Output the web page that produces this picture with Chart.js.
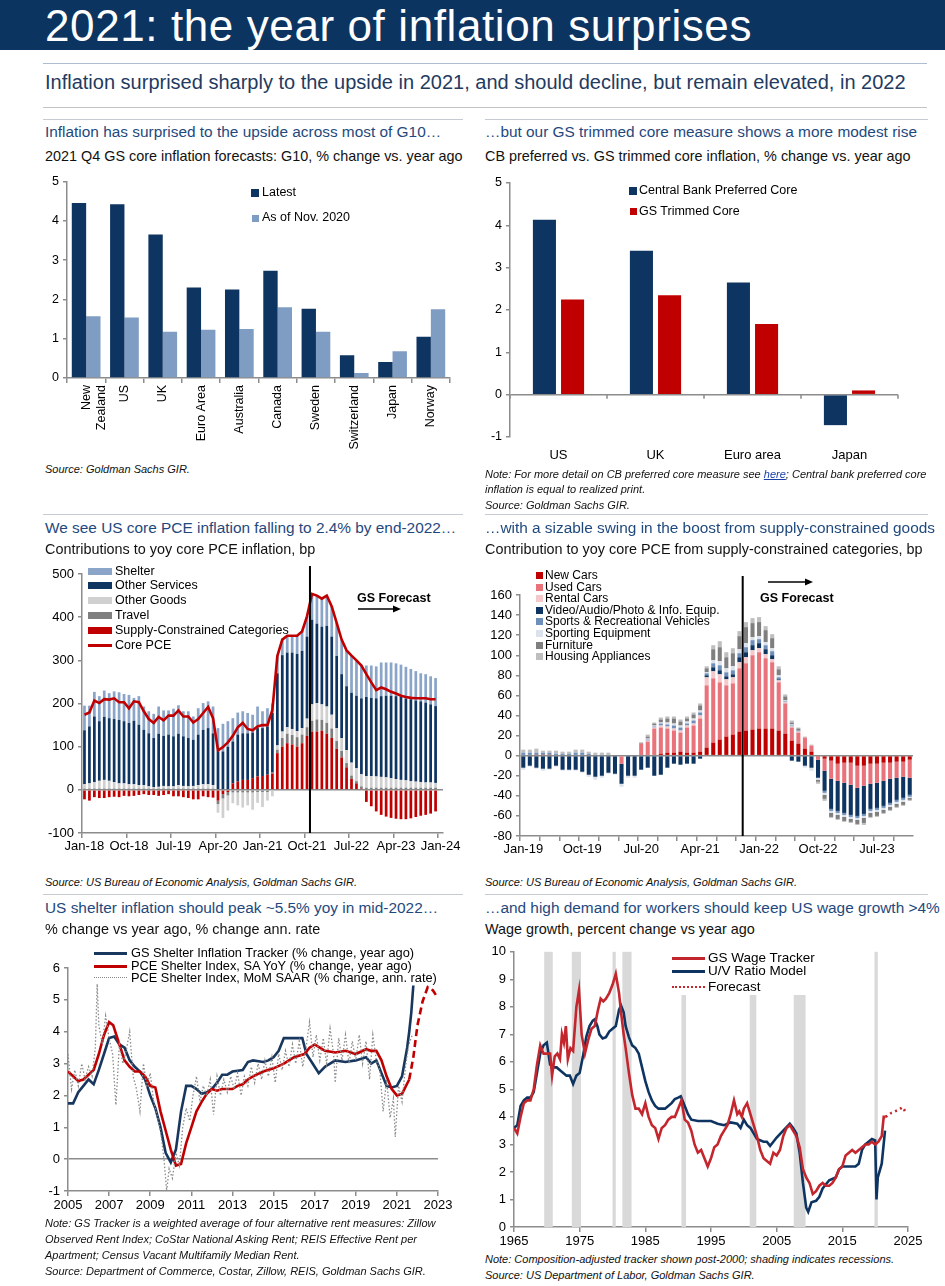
<!DOCTYPE html>
<html>
<head>
<meta charset="utf-8">
<script src="https://cdn.jsdelivr.net/npm/chart.js@4"></script>
<style>
body{margin:0;width:945px;height:1286px;position:relative;background:#fff;font-family:'Liberation Sans',Arial,sans-serif;overflow:hidden;color:#111}
.t{position:absolute;white-space:nowrap;line-height:1}
.h{font-size:15.4px;color:#1F497D}
.s{font-size:14.4px;color:#111}
.n{font-size:11px;font-style:italic;color:#111}
.hr{position:absolute;height:1px;background:#c6cbd3}
canvas{position:absolute}
.sw{position:absolute}
.lg{position:absolute;white-space:nowrap;line-height:1;color:#000}
</style>
</head>
<body>
<script>
// ---- panel 1: G10 core inflation forecasts
const g10Countries = [['New', 'Zealand'], 'US', 'UK', 'Euro Area', 'Australia', 'Canada', 'Sweden', 'Switzerland', 'Japan', 'Norway'];
const g10Latest = [4.45, 4.42, 3.65, 2.3, 2.25, 2.73, 1.76, 0.58, 0.41, 1.05];
const g10Nov2020 = [1.57, 1.54, 1.18, 1.23, 1.25, 1.8, 1.18, 0.13, 0.68, 1.75];

// ---- panel 2: CB preferred vs GS trimmed core
const cbRegions = ['US', 'UK', 'Euro area', 'Japan'];
const cbPreferred = [4.13, 3.4, 2.65, -0.72];
const gsTrimmed = [2.25, 2.35, 1.67, 0.1];

// ---- panel 3: contributions to yoy core PCE, bp (Jan-18 .. Dec-23)
const pceMonths = ['Jan-18','Feb-18','Mar-18','Apr-18','May-18','Jun-18','Jul-18','Aug-18','Sep-18','Oct-18','Nov-18','Dec-18',
  'Jan-19','Feb-19','Mar-19','Apr-19','May-19','Jun-19','Jul-19','Aug-19','Sep-19','Oct-19','Nov-19','Dec-19',
  'Jan-20','Feb-20','Mar-20','Apr-20','May-20','Jun-20','Jul-20','Aug-20','Sep-20','Oct-20','Nov-20','Dec-20',
  'Jan-21','Feb-21','Mar-21','Apr-21','May-21','Jun-21','Jul-21','Aug-21','Sep-21','Oct-21','Nov-21','Dec-21',
  'Jan-22','Feb-22','Mar-22','Apr-22','May-22','Jun-22','Jul-22','Aug-22','Sep-22','Oct-22','Nov-22','Dec-22',
  'Jan-23','Feb-23','Mar-23','Apr-23','May-23','Jun-23','Jul-23','Aug-23','Sep-23','Oct-23','Nov-23','Dec-23','Jan-24'];
const pceSupply = [-22,-25,-17,-19,-19,-17,-16,-17,-14,-15,-14,-12,-10,-12,-12,-14,-12,-10,-15,-15,-17,-19,-22,-22,-15,-17,-18,
  -25,-10,-5,15,19,23,23,27,31,32,35,
  38,85,100,108,105,100,108,125,135,135,137,130,120,95,75,52,25,15,3,
  -28,-38,-50,-58,-62,-65,-67,-68,-68,-66,-63,-60,-58,-55,-50];
const pceTravel = [3,3,3,3,3,3,3,3,3,3,3,3,3,3,3,3,3,3,3,3,3,3,3,3,3,3,3,
  -8,-10,-8,-6,-6,-6,-6,-6,-5,-5,-5,
  2,8,20,22,22,22,20,20,25,28,25,25,22,18,15,10,8,5,5,
  5,5,5,5,5,5,5,5,5,5,5,5,5,5,5];
const pceOtherGoods = [10,12,15,18,20,18,15,12,12,10,10,8,8,5,3,4,6,5,5,8,6,5,6,8,10,10,8,
  -20,-45,-35,-25,-30,-35,-30,-40,-25,-35,-20,
  -15,10,15,15,14,14,15,20,38,38,36,38,32,30,30,30,30,30,28,
  27,27,26,25,24,22,20,18,17,15,14,13,12,12,11];
const pceOtherServices = [125,132,152,138,146,145,146,147,144,142,147,140,128,123,114,123,116,120,116,119,115,112,107,117,126,130,120,
  89,89,100,97,109,108,108,106,112,111,112,
  138,167,177,173,177,179,179,190,196,184,180,187,181,167,148,148,162,168,176,
  183,181,181,187,189,191,192,192,190,190,188,187,185,181,178];
const pceShelter = [57,48,57,58,61,58,64,64,63,65,53,66,54,51,56,63,59,56,64,66,58,62,54,61,62,62,62,
  54,64,59,54,51,51,47,41,50,39,42,
  22,40,38,39,39,42,46,47,60,65,65,70,70,77,80,83,86,82,78,
  73,75,74,78,77,77,76,75,73,70,68,65,66,65,65];
const corePce = [174,179,207,201,210,209,212,203,203,189,205,203,182,164,155,169,161,172,172,184,170,170,156,164,178,192,166,
  91,99,110,125,145,155,141,138,147,150,150,
  185,310,348,357,357,357,367,402,454,450,443,450,425,387,348,323,311,300,288,
  268,249,231,237,233,227,223,218,215,213,212,212,212,210,210];
const pceForecastAt = 45.6;

// ---- panel 4: supply-constrained categories, bp (Jan-19 .. Dec-23)
const scMonths = pceMonths.slice(12, 72);
const scNewCars = [0,0,1,1,1,0,0,0,0,0,0,0,0,0,0,0,0,0,
  1,1,1,2,3,3,4,3,3,4,8,13,16,19,21,24,
  25,26,27,27,27,25,22,15,12,7,4,
  -1,-3,-5,-8,-7,-7,-10,-10,-8,-8,-7,-7,-6,-6,-4];
const scUsedCars = [0,0,0,0,0,0,0,0,0,0,0,0,0,0,0,-8,0,0,
  11,13,26,26,24,22,19,25,27,33,62,64,57,51,51,63,
  67,74,76,70,66,48,30,13,11,11,6,
  -3,-12,-18,-17,-20,-22,-22,-20,-20,-19,-18,-16,-16,-15,-18];
const scRentalCars = [0,0,0,0,0,0,0,0,0,0,0,0,0,0,0,0,0,0,
  0,1,1,2,2,2,2,2,2,3,8,7,8,6,6,6,
  6,5,4,4,3,2,1,1,1,0,0,
  0,0,0,0,0,0,0,0,0,0,0,0,0,0,0];
const scVideo = [-12,-10,-12,-13,-13,-10,-14,-14,-14,-16,-19,-21,-20,-17,-18,-20,-20,-20,
  -14,-12,-20,-19,-12,-8,-9,-8,-8,-3,2,4,4,3,3,5,
  5,5,5,5,4,1,0,-5,-6,-10,-12,
  -18,-20,-30,-30,-30,-30,-28,-28,-25,-25,-25,-24,-22,-21,-17];
const scSportsVehicles = [3,3,2,2,2,2,2,2,3,3,2,1,1,1,0,0,0,0,
  0,1,1,2,2,3,3,2,3,3,2,4,5,4,4,4,
  5,5,4,4,4,2,1,1,1,0,0,
  0,-2,-2,-2,-2,-2,-2,-2,-2,-2,-2,-2,-2,-2,-2];
const scSportingEquip = [-2,-1,-1,-2,-1,-1,-1,-1,-1,-1,-2,-3,-2,-1,-1,-3,-2,-2,
  0,1,1,1,2,2,2,2,2,2,1,3,4,4,4,4,
  4,3,3,3,3,2,1,1,0,-2,-3,
  -2,-2,-2,-2,-2,-2,-2,-2,-2,-2,-2,-2,-2,-2,-1];
const scFurniture = [0,0,0,0,0,0,0,0,0,0,0,0,0,0,0,0,0,0,
  1,2,2,3,4,5,4,3,4,5,4,11,14,11,13,13,
  16,14,14,12,10,6,4,2,2,0,0,
  -2,-4,-4,-4,-4,-3,-4,-5,-4,-4,-3,-3,-3,-3,-2];
const scHousingAppl = [3,3,4,2,2,3,2,2,3,3,2,2,2,2,0,0,0,0,
  0,2,1,2,2,2,2,2,2,2,2,4,6,5,5,5,
  5,5,5,4,4,3,2,2,1,1,1,
  -2,-2,-1,-1,-1,-1,-1,-2,-1,-1,-1,-1,-1,-1,-1];
const scForecastAt = 33.5;

// ---- panel 5: shelter inflation, [year, %]
const gsShelterTracker = [[2005.0,1.75],[2005.25,1.75],[2005.5,2.1],[2005.75,2.3],[2006.0,2.5],[2006.25,2.35],[2006.5,2.8],[2006.75,3.3],
  [2007.0,3.8],[2007.25,3.85],[2007.5,3.6],[2007.75,3.5],[2008.0,3.1],[2008.25,2.9],[2008.5,2.75],[2008.75,2.5],[2009.0,2.0],
  [2009.25,1.6],[2009.5,1.0],[2009.75,0.2],[2010.0,-0.1],[2010.25,0.3],[2010.5,1.5],[2010.75,2.3],[2011.0,2.3],[2011.25,2.2],
  [2011.5,2.05],[2011.75,2.1],[2012.0,2.2],[2012.25,2.4],[2012.5,2.65],[2012.75,2.65],[2013.0,2.75],[2013.5,2.8],[2013.75,3.05],
  [2014.0,3.1],[2014.5,3.05],[2014.75,3.1],[2015.0,3.2],[2015.25,3.4],[2015.5,3.8],[2016.0,3.8],[2016.4,3.8],[2016.6,3.3],
  [2016.9,3.0],[2017.2,2.7],[2017.5,2.9],[2017.75,3.0],[2018.0,3.1],[2018.5,3.05],[2019.0,3.1],[2019.5,3.2],[2019.75,3.0],
  [2020.0,3.1],[2020.25,2.7],[2020.5,2.3],[2020.75,2.25],[2021.0,2.3],[2021.25,2.6],[2021.5,3.5],[2021.6,4.0],[2021.7,4.6],[2021.8,5.45]];
const pceShelterYoy = [[2005.0,2.75],[2005.25,2.6],[2005.5,2.45],[2005.75,2.5],[2006.0,2.65],[2006.25,2.8],[2006.5,3.3],[2006.75,3.9],
  [2007.0,4.3],[2007.2,4.2],[2007.5,3.6],[2007.75,3.1],[2008.0,2.9],[2008.25,2.75],[2008.5,2.75],[2008.75,2.6],[2009.0,2.3],
  [2009.25,2.25],[2009.5,1.5],[2009.75,0.9],[2010.0,0.3],[2010.25,-0.2],[2010.5,-0.15],[2010.75,0.5],[2011.0,1.0],[2011.25,1.5],
  [2011.5,1.8],[2011.75,2.05],[2012.0,2.2],[2012.25,2.15],[2012.5,2.2],[2012.75,2.2],[2013.0,2.2],[2013.25,2.3],[2013.5,2.35],
  [2013.75,2.5],[2014.0,2.6],[2014.5,2.75],[2015.0,2.85],[2015.5,3.0],[2015.75,3.1],[2016.0,3.2],[2016.5,3.3],[2016.75,3.5],
  [2017.0,3.6],[2017.25,3.5],[2017.5,3.4],[2018.0,3.35],[2018.5,3.4],[2019.0,3.3],[2019.5,3.45],[2019.75,3.4],[2020.0,3.4],
  [2020.25,3.1],[2020.5,2.6],[2020.75,2.2],[2021.0,2.0],[2021.25,2.05],[2021.6,2.5]];
const pceShelterForecast = [[2021.6,2.5],[2021.8,3.2],[2022.0,4.2],[2022.25,4.95],[2022.5,5.4],[2022.75,5.3],[2022.95,5.1]];
const pceShelterMom = [[2005.0,3.3],[2005.17,2.2],[2005.33,2.8],[2005.5,2.3],[2005.67,3.0],[2005.83,2.5],[2006.0,2.9],[2006.17,2.6],
  [2006.33,3.5],[2006.42,5.5],[2006.5,4.2],[2006.67,3.6],[2006.83,4.5],[2007.0,3.8],[2007.17,3.3],[2007.33,1.7],[2007.5,3.6],
  [2007.67,3.0],[2007.83,3.4],[2008.0,4.0],[2008.17,2.6],[2008.33,2.2],[2008.5,1.5],[2008.67,3.0],[2008.83,2.3],[2009.0,2.7],
  [2009.17,1.8],[2009.33,1.4],[2009.5,0.9],[2009.67,0.0],[2009.8,-1.0],[2009.92,-0.3],[2010.08,-0.6],[2010.25,0.2],[2010.42,-0.2],
  [2010.58,1.0],[2010.75,1.6],[2010.92,1.2],[2011.08,2.0],[2011.25,2.6],[2011.42,1.8],[2011.58,2.3],[2011.75,2.0],[2011.92,2.5],
  [2012.08,1.4],[2012.25,2.6],[2012.42,2.0],[2012.58,2.5],[2012.75,2.1],[2012.92,2.6],[2013.08,2.2],[2013.25,2.7],[2013.42,2.0],
  [2013.58,2.6],[2013.75,2.3],[2013.92,2.9],[2014.08,2.4],[2014.25,3.0],[2014.42,2.5],[2014.58,3.1],[2014.75,2.6],[2014.92,3.2],
  [2015.08,2.4],[2015.25,3.3],[2015.42,2.8],[2015.58,3.4],[2015.75,2.9],[2015.92,3.6],[2016.08,3.0],[2016.25,3.7],[2016.42,2.9],
  [2016.58,3.5],[2016.75,4.3],[2016.92,3.2],[2017.08,3.9],[2017.25,3.1],[2017.42,3.8],[2017.58,3.0],[2017.75,4.1],[2017.92,3.3],
  [2018.0,2.4],[2018.17,3.8],[2018.33,3.1],[2018.5,3.9],[2018.67,3.0],[2018.83,3.7],[2019.0,3.1],[2019.17,3.9],[2019.33,3.0],
  [2019.5,3.7],[2019.67,2.5],[2019.83,3.9],[2020.0,3.1],[2020.17,2.8],[2020.33,1.5],[2020.5,2.5],[2020.67,1.3],[2020.83,1.9],
  [2020.92,0.7],[2021.08,2.3],[2021.25,1.8],[2021.42,2.9],[2021.58,3.6],[2021.75,3.9]];

// ---- panel 6: wage growth, [year, %]
const gsWageTracker = [[1965.0,3.6],[1965.5,3.4],[1966.0,4.0],[1966.5,4.5],[1967.0,4.6],[1967.5,4.6],[1968.0,5.0],[1968.5,5.9],
  [1969.0,6.6],[1969.5,6.3],[1970.0,6.3],[1970.5,6.3],[1970.8,5.5],[1971.2,6.2],[1971.6,6.3],[1972.0,6.1],[1972.3,7.0],[1972.6,6.7],
  [1972.9,7.3],[1973.2,6.1],[1973.6,6.5],[1974.0,6.4],[1974.5,8.0],[1974.9,8.6],[1975.3,7.0],[1975.8,6.3],[1976.3,6.8],[1976.8,7.2],
  [1977.3,7.3],[1977.8,7.9],[1978.2,8.3],[1978.6,8.2],[1979.0,8.3],[1979.5,8.5],[1980.0,8.8],[1980.5,9.2],[1981.0,8.5],[1981.3,7.8],
  [1981.7,7.0],[1982.0,6.5],[1982.5,5.6],[1983.0,4.8],[1983.5,4.3],[1984.0,4.3],[1984.5,4.1],[1985.0,4.5],[1985.5,4.0],[1986.0,3.7],
  [1986.5,3.6],[1987.0,3.2],[1987.5,3.6],[1988.0,3.7],[1988.5,3.9],[1989.0,4.0],[1989.5,4.0],[1990.0,4.3],[1990.5,4.6],[1991.0,3.9],
  [1991.5,3.8],[1992.0,3.5],[1992.5,3.0],[1993.0,2.7],[1993.5,2.8],[1994.0,2.5],[1994.5,2.2],[1995.0,2.5],[1995.5,2.9],[1996.0,3.0],
  [1996.5,3.3],[1997.0,3.5],[1997.5,3.7],[1998.0,4.1],[1998.5,4.6],[1999.0,4.1],[1999.3,4.2],[1999.7,4.0],[2000.0,4.3],[2000.5,4.5],
  [2001.0,4.1],[2001.5,3.7],[2002.0,3.3],[2002.5,2.8],[2003.0,2.5],[2003.5,2.4],[2004.0,2.3],[2004.5,2.7],[2005.0,2.6],[2005.5,2.8],
  [2006.0,3.3],[2006.5,3.6],[2007.0,3.7],[2007.5,3.5],[2008.0,3.3],[2008.5,2.9],[2009.0,2.1],[2009.5,1.8],[2010.0,1.6],[2010.5,1.2],
  [2011.0,1.3],[2011.5,1.5],[2012.0,1.6],[2012.5,1.5],[2013.0,1.5],[2013.5,1.6],[2014.0,1.8],[2014.5,2.1],[2015.0,2.2],[2015.5,2.6],
  [2016.0,2.7],[2016.5,2.8],[2017.0,2.7],[2017.5,2.8],[2018.0,2.9],[2018.5,3.0],[2019.0,3.0],[2019.5,3.1],[2020.0,3.0],[2020.5,3.1],
  [2021.0,3.3],[2021.3,4.0],[2021.6,4.0]];
const wageForecast = [[2021.6,4.0],[2022.5,4.15],[2023.5,4.25],[2024.2,4.35],[2024.7,4.15]];
const uvRatioModel = [[1965.0,3.6],[1965.5,3.7],[1966.0,4.4],[1966.5,4.6],[1967.0,4.7],[1967.5,4.7],[1968.0,4.9],[1968.5,5.6],
  [1969.0,6.3],[1969.5,6.6],[1970.0,6.7],[1970.5,5.9],[1971.0,5.8],[1971.5,5.8],[1972.0,5.7],[1972.5,5.6],[1973.0,5.5],[1973.5,5.5],
  [1974.0,5.2],[1974.5,5.5],[1975.0,5.6],[1975.5,6.2],[1976.0,6.9],[1976.5,7.3],[1977.0,7.5],[1977.3,7.55],[1977.7,7.3],[1978.0,7.0],
  [1978.5,6.85],[1979.0,6.9],[1979.5,7.1],[1980.0,7.2],[1980.5,7.3],[1981.0,7.9],[1981.3,8.05],[1981.7,7.8],[1982.0,7.3],[1982.5,6.9],
  [1983.0,6.6],[1983.5,6.5],[1984.0,6.3],[1984.5,5.8],[1985.0,5.3],[1985.5,4.9],[1986.0,4.6],[1986.5,4.4],[1987.0,4.3],[1988.0,4.3],
  [1989.0,4.5],[1989.5,4.65],[1990.0,4.7],[1990.4,4.75],[1991.0,4.4],[1991.5,4.1],[1992.0,3.9],[1993.0,3.85],[1994.0,3.85],[1995.0,3.85],
  [1996.0,3.75],[1997.0,3.7],[1998.0,3.8],[1999.0,3.75],[1999.5,3.6],[2000.0,3.9],[2000.5,3.7],[2001.0,3.6],[2001.5,3.4],[2002.0,3.2],
  [2003.0,3.1],[2003.5,3.1],[2004.0,2.95],[2004.5,3.1],[2005.0,3.25],[2006.0,3.5],[2007.0,3.75],[2007.5,3.6],[2008.0,3.4],[2008.5,2.7],
  [2009.0,1.6],[2009.5,0.7],[2009.8,0.55],[2010.3,0.9],[2011.0,0.95],[2011.5,1.1],[2012.0,1.4],[2013.0,1.7],[2014.0,1.8],[2014.5,2.1],
  [2015.0,2.2],[2016.0,2.2],[2017.0,2.2],[2017.5,2.3],[2018.0,2.8],[2018.5,3.0],[2019.0,3.1],[2019.5,3.2],[2020.0,3.15],[2020.2,1.0],
  [2020.4,1.8],[2021.0,2.3],[2021.5,3.5]];
const recessionStart = [1969.6, 1973.8, 1980.0, 1981.5, 1990.5, 2000.9, 2007.6, 2019.9];
const recessionEnd = [1970.9, 1975.2, 1980.5, 1982.9, 1991.2, 2001.9, 2009.4, 2020.4];

const NAVY = '#0E3461';
const LIGHT = '#7F9CC2';
const RED = '#C00000';
const AXIS = '#8c8c8c';
Chart.defaults.font.family = "'Liberation Sans', Arial, sans-serif";
Chart.defaults.color = '#000';

function mk(x, y, w, h) {
  const c = document.createElement('canvas');
  c.width = w; c.height = h;
  c.style.left = x + 'px'; c.style.top = y + 'px';
  document.body.appendChild(c);
  return c;
}
function xy(pairs) { return pairs.map(p => ({x: p[0], y: p[1]})); }

function yScale(min, max, step, width, size, zeroLine) {
  return {
    min: min, max: max,
    ticks: {stepSize: step, font: {size: size}, padding: 4},
    grid: {
      drawOnChartArea: !!zeroLine,
      color: c => (zeroLine && c.tick && c.tick.value === 0) ? AXIS : 'rgba(0,0,0,0)',
      tickColor: AXIS, tickLength: 4, lineWidth: 1.5
    },
    border: {color: AXIS, width: 1.5},
    afterFit: s => { s.width = width; }
  };
}
const base = {animation: false, responsive: false, plugins: {legend: {display: false}, tooltip: {enabled: false}}};

function forecastLine(at, above) {
  return {
    id: 'fline',
    afterDatasetsDraw(chart) {
      const x = chart.scales.x.getPixelForValue(at), ctx = chart.ctx;
      ctx.save(); ctx.strokeStyle = '#000'; ctx.lineWidth = 2;
      ctx.beginPath(); ctx.moveTo(x, chart.chartArea.top - above); ctx.lineTo(x, chart.chartArea.bottom); ctx.stroke();
      ctx.restore();
    }
  };
}

// panel 1
new Chart(mk(20, 170, 445, 285), {
  type: 'bar',
  data: {labels: g10Countries, datasets: [
    {data: g10Latest, backgroundColor: NAVY},
    {data: g10Nov2020, backgroundColor: LIGHT}]},
  options: Object.assign({}, base, {
    layout: {padding: {top: 9, right: 15}},
    datasets: {bar: {categoryPercentage: 0.75, barPercentage: 1}},
    scales: {
      x: {grid: {drawOnChartArea: false, offset: true, tickLength: 5, color: AXIS, lineWidth: 1.5},
          border: {color: AXIS, width: 1.5},
          ticks: {minRotation: 90, maxRotation: 90, autoSkip: false, font: {size: 12.5}, padding: 2},
          afterFit: s => { s.height = 77; }},
      y: yScale(0, 5, 1, 47, 12.5, false)
    }
  })
});

// panel 2
new Chart(mk(470, 170, 470, 300), {
  type: 'bar',
  data: {labels: cbRegions, datasets: [
    {data: cbPreferred, backgroundColor: NAVY},
    {data: gsTrimmed, backgroundColor: RED}]},
  options: Object.assign({}, base, {
    layout: {padding: {top: 13, right: 42}},
    datasets: {bar: {categoryPercentage: 0.58, barPercentage: 0.82}},
    scales: {
      x: {grid: {display: false}, border: {display: false},
          ticks: {font: {size: 13}, padding: 3},
          afterFit: s => { s.height = 33; }},
      y: yScale(-1, 5, 1, 40, 12.5, true)
    }
  }),
  plugins: [{
    id: 'zeroTicks',
    afterDatasetsDraw(chart) {
      const xs = chart.scales.x, y0 = chart.scales.y.getPixelForValue(0), ctx = chart.ctx;
      ctx.save(); ctx.strokeStyle = AXIS; ctx.lineWidth = 1.5; ctx.beginPath();
      for (let i = 0; i <= cbRegions.length; i++) {
        const x = xs.getPixelForValue(i - 0.5);
        ctx.moveTo(x, y0); ctx.lineTo(x, y0 + 4);
      }
      ctx.stroke(); ctx.restore();
    }
  }]
});

// panel 3
function monthAxis(labels, every, tickEvery, height, size) {
  return {
    stacked: true,
    grid: {drawOnChartArea: false, offset: true, tickLength: 5, lineWidth: 1.5,
           color: c => (c.index % tickEvery === 0) ? AXIS : 'rgba(0,0,0,0)'},
    border: {color: AXIS, width: 1.5},
    ticks: {autoSkip: false, maxRotation: 0, minRotation: 0, font: {size: size}, padding: 1,
            callback: (v, i) => (i % every === 0 ? labels[i] : '')},
    afterFit: s => { s.height = height; }
  };
}
new Chart(mk(30, 560, 440, 302), {
  type: 'bar',
  data: {labels: pceMonths, datasets: [
    {type: 'line', data: corePce, borderColor: '#C00000', borderWidth: 2.6, pointRadius: 0, order: 0, stack: 'pce'},
    {data: pceSupply, backgroundColor: '#C00000', order: 1},
    {data: pceTravel, backgroundColor: '#7F7F7F', order: 1},
    {data: pceOtherGoods, backgroundColor: '#D0D0D0', order: 1},
    {data: pceOtherServices, backgroundColor: '#0E3461', order: 1},
    {data: pceShelter, backgroundColor: '#8BA5C8', order: 1}]},
  options: Object.assign({}, base, {
    layout: {padding: {top: 14, right: 27}},
    datasets: {bar: {categoryPercentage: 1, barPercentage: 0.55}},
    scales: {
      x: monthAxis(pceMonths, 9, 9, 29, 13),
      y: Object.assign(yScale(-100, 500, 100, 52, 13, true), {stacked: true})
    }
  }),
  plugins: [forecastLine(pceForecastAt, 8)]
});

// panel 4
new Chart(mk(475, 560, 465, 302), {
  type: 'bar',
  data: {labels: scMonths, datasets: [
    {data: scNewCars, backgroundColor: '#C00000'},
    {data: scUsedCars, backgroundColor: '#E8737B'},
    {data: scRentalCars, backgroundColor: '#F5C9CC'},
    {data: scVideo, backgroundColor: '#0E3461'},
    {data: scSportsVehicles, backgroundColor: '#6F8FBB'},
    {data: scSportingEquip, backgroundColor: '#DCE2EC'},
    {data: scFurniture, backgroundColor: '#7F7F7F'},
    {data: scHousingAppl, backgroundColor: '#BFBFBF'}]},
  options: Object.assign({}, base, {
    layout: {padding: {top: 35, right: 27}},
    datasets: {bar: {categoryPercentage: 1, barPercentage: 0.62}},
    scales: {
      x: monthAxis(scMonths, 9, 3, 26, 13),
      y: Object.assign(yScale(-80, 160, 20, 45, 13, true), {stacked: true})
    }
  }),
  plugins: [forecastLine(scForecastAt, 19)]
});

// panel 5
function yearAxis(min, max, step, height) {
  return {
    type: 'linear', min: min, max: max,
    ticks: {stepSize: step, font: {size: 13}, padding: 2, callback: v => String(v)},
    grid: {drawOnChartArea: false, tickLength: 5, color: AXIS, lineWidth: 1.5},
    border: {color: AXIS, width: 1.5},
    afterFit: s => { s.height = height; }
  };
}
new Chart(mk(20, 940, 440, 280), {
  type: 'line',
  data: {datasets: [
    {data: xy(pceShelterMom), borderColor: '#8a8a8a', borderWidth: 1.3, borderDash: [1.5, 2], pointRadius: 0},
    {data: xy(pceShelterYoy), borderColor: '#C00000', borderWidth: 2.6, pointRadius: 0},
    {data: xy(pceShelterForecast), borderColor: '#C00000', borderWidth: 2.6, borderDash: [7, 4], pointRadius: 0},
    {data: xy(gsShelterTracker), borderColor: '#17375E', borderWidth: 2.6, pointRadius: 0}]},
  options: Object.assign({}, base, {
    layout: {padding: {top: 28, right: 22}},
    scales: {x: yearAxis(2005, 2023, 2, 29), y: yScale(-1, 6, 1, 48, 13, true)}
  })
});

// panel 6
new Chart(mk(475, 940, 465, 312), {
  type: 'line',
  data: {datasets: [
    {data: xy(gsWageTracker), borderColor: '#C4262E', borderWidth: 2.6, pointRadius: 0},
    {data: xy(wageForecast), borderColor: '#C4262E', borderWidth: 2.6, borderDash: [2, 3.5], pointRadius: 0},
    {data: xy(uvRatioModel), borderColor: '#0E3461', borderWidth: 2.6, pointRadius: 0}]},
  options: Object.assign({}, base, {
    layout: {padding: {top: 9, right: 32}},
    scales: {x: yearAxis(1965, 2025, 10, 25), y: yScale(0, 10, 1, 39, 13, false)}
  }),
  plugins: [{
    id: 'recessions',
    beforeDatasetsDraw(chart) {
      const xs = chart.scales.x, a = chart.chartArea, ctx = chart.ctx;
      ctx.save(); ctx.fillStyle = '#D9D9D9';
      recessionStart.forEach((s, i) => {
        const x0 = xs.getPixelForValue(s), x1 = xs.getPixelForValue(recessionEnd[i]);
        ctx.fillRect(x0, a.top, x1 - x0, a.bottom - a.top);
      });
      ctx.restore();
    }
  }]
});
</script>

<!-- header -->
<div style="position:absolute;left:0;top:0;width:945px;height:50px;background:#0C3461"></div>
<div class="t" style="left:45px;top:4px;font-size:44px;letter-spacing:0.6px;color:#fff">2021: the year of inflation surprises</div>
<div class="hr" style="left:43px;top:63px;width:884px;background:#aebdd0"></div>
<div class="t" style="left:45px;top:72px;font-size:20px;color:#1F3B5F">Inflation surprised sharply to the upside in 2021, and should decline, but remain elevated, in 2022</div>
<div class="hr" style="left:43px;top:107px;width:884px;background:#c3c3c3"></div>

<div class="hr" style="left:43px;top:119px;width:420px"></div>
<div class="hr" style="left:485px;top:119px;width:443px"></div>
<div class="hr" style="left:43px;top:514px;width:420px"></div>
<div class="hr" style="left:485px;top:514px;width:443px"></div>
<div class="hr" style="left:43px;top:894px;width:420px"></div>
<div class="hr" style="left:485px;top:894px;width:443px"></div>

<!-- panel 1 text -->
<div class="t h" style="left:45px;top:124px">Inflation has surprised to the upside across most of G10…</div>
<div class="t s" style="left:45px;top:149px">2021 Q4 GS core inflation forecasts: G10, % change vs. year ago</div>
<div class="sw" style="left:251px;top:189px;width:8px;height:8px;background:#0E3461"></div>
<div class="lg" style="left:262px;top:186px;font-size:12.5px">Latest</div>
<div class="sw" style="left:252px;top:215px;width:7px;height:7px;background:#7F9CC2"></div>
<div class="lg" style="left:262px;top:211px;font-size:12.5px">As of Nov. 2020</div>
<div class="t n" style="left:45px;top:464px">Source: Goldman Sachs GIR.</div>

<!-- panel 2 text -->
<div class="t h" style="left:485px;top:124px">…but our GS trimmed core measure shows a more modest rise</div>
<div class="t s" style="left:485px;top:149px">CB preferred vs. GS trimmed core inflation, % change vs. year ago</div>
<div class="sw" style="left:629px;top:187px;width:8px;height:8px;background:#0E3461"></div>
<div class="lg" style="left:639px;top:184px;font-size:12.5px">Central Bank Preferred Core</div>
<div class="sw" style="left:630px;top:208px;width:7px;height:7px;background:#C00000"></div>
<div class="lg" style="left:639px;top:205px;font-size:12.5px">GS Trimmed Core</div>
<div class="t n" style="left:485px;top:469px">Note: For more detail on CB preferred core measure see <span style="color:#1a3fa8;text-decoration:underline">here</span>; Central bank preferred core</div>
<div class="t n" style="left:485px;top:484px">inflation is equal to realized print.</div>
<div class="t n" style="left:485px;top:500px">Source: Goldman Sachs GIR.</div>

<!-- panel 3 text -->
<div class="t h" style="left:45px;top:520px">We see US core PCE inflation falling to 2.4% by end-2022…</div>
<div class="t s" style="left:45px;top:542px">Contributions to yoy core PCE inflation, bp</div>
<div class="sw" style="left:88px;top:568px;width:24px;height:7px;background:#8BA5C8"></div>
<div class="lg" style="left:115px;top:565px;font-size:12.5px">Shelter</div>
<div class="sw" style="left:88px;top:582px;width:24px;height:7px;background:#0E3461"></div>
<div class="lg" style="left:115px;top:579px;font-size:12.5px">Other Services</div>
<div class="sw" style="left:88px;top:597px;width:24px;height:7px;background:#D0D0D0"></div>
<div class="lg" style="left:115px;top:594px;font-size:12.5px">Other Goods</div>
<div class="sw" style="left:88px;top:612px;width:24px;height:7px;background:#7F7F7F"></div>
<div class="lg" style="left:115px;top:609px;font-size:12.5px">Travel</div>
<div class="sw" style="left:88px;top:627px;width:24px;height:7px;background:#C00000"></div>
<div class="lg" style="left:115px;top:624px;font-size:12.5px">Supply-Constrained Categories</div>
<div class="sw" style="left:88px;top:644px;width:24px;height:2.5px;background:#C00000"></div>
<div class="lg" style="left:115px;top:639px;font-size:12.5px">Core PCE</div>
<div class="lg" style="left:357px;top:592px;font-size:12.5px;font-weight:bold">GS Forecast</div>
<div class="t n" style="left:45px;top:877px">Source: US Bureau of Economic Analysis, Goldman Sachs GIR.</div>

<!-- panel 4 text -->
<div class="t h" style="left:485px;top:520px">…with a sizable swing in the boost from supply-constrained goods</div>
<div class="t s" style="left:485px;top:542px">Contribution to yoy core PCE from supply-constrained categories, bp</div>
<div class="sw" style="left:536px;top:572px;width:7px;height:7px;background:#C00000"></div>
<div class="lg" style="left:545px;top:569px;font-size:12px">New Cars</div>
<div class="sw" style="left:536px;top:584px;width:7px;height:7px;background:#E8737B"></div>
<div class="lg" style="left:545px;top:581px;font-size:12px">Used Cars</div>
<div class="sw" style="left:536px;top:595px;width:7px;height:7px;background:#F5C9CC"></div>
<div class="lg" style="left:545px;top:592px;font-size:12px">Rental Cars</div>
<div class="sw" style="left:536px;top:607px;width:7px;height:7px;background:#0E3461"></div>
<div class="lg" style="left:545px;top:604px;font-size:12px">Video/Audio/Photo &amp; Info. Equip.</div>
<div class="sw" style="left:536px;top:618px;width:7px;height:7px;background:#6F8FBB"></div>
<div class="lg" style="left:545px;top:615px;font-size:12px">Sports &amp; Recreational Vehicles</div>
<div class="sw" style="left:536px;top:630px;width:7px;height:7px;background:#DCE2EC"></div>
<div class="lg" style="left:545px;top:627px;font-size:12px">Sporting Equipment</div>
<div class="sw" style="left:536px;top:642px;width:7px;height:7px;background:#7F7F7F"></div>
<div class="lg" style="left:545px;top:639px;font-size:12px">Furniture</div>
<div class="sw" style="left:536px;top:653px;width:7px;height:7px;background:#BFBFBF"></div>
<div class="lg" style="left:545px;top:650px;font-size:12px">Housing Appliances</div>
<div class="lg" style="left:760px;top:592px;font-size:12.5px;font-weight:bold">GS Forecast</div>
<div class="t n" style="left:485px;top:877px">Source: US Bureau of Economic Analysis, Goldman Sachs GIR.</div>

<!-- panel 5 text -->
<div class="t h" style="left:45px;top:900px">US shelter inflation should peak ~5.5% yoy in mid-2022…</div>
<div class="t s" style="left:45px;top:922px">% change vs year ago, % change ann. rate</div>
<div class="sw" style="left:94px;top:952px;width:33px;height:2.5px;background:#17375E"></div>
<div class="lg" style="left:131px;top:947px;font-size:12.8px">GS Shelter Inflation Tracker (% change, year ago)</div>
<div class="sw" style="left:94px;top:965px;width:33px;height:2.5px;background:#C00000"></div>
<div class="lg" style="left:131px;top:960px;font-size:12.8px">PCE Shelter Index, SA YoY (% change, year ago)</div>
<div class="sw" style="left:94px;top:977px;width:33px;height:0;border-top:1.5px dotted #8a8a8a"></div>
<div class="lg" style="left:131px;top:972px;font-size:12.8px">PCE Shelter Index, MoM SAAR (% change, ann. rate)</div>
<div class="t n" style="left:45px;top:1218px">Note: GS Tracker is a weighted average of four alternative rent measures: Zillow</div>
<div class="t n" style="left:45px;top:1234px">Observed Rent Index; CoStar National Asking Rent; REIS Effective Rent per</div>
<div class="t n" style="left:45px;top:1250px">Apartment; Census Vacant Multifamily Median Rent.</div>
<div class="t n" style="left:45px;top:1266px">Source: Department of Commerce, Costar, Zillow, REIS, Goldman Sachs GIR.</div>

<!-- panel 6 text -->
<div class="t h" style="left:485px;top:900px">…and high demand for workers should keep US wage growth &gt;4%</div>
<div class="t s" style="left:485px;top:922px">Wage growth, percent change vs year ago</div>
<div style="position:absolute;left:668px;top:949px;width:147px;height:46px;background:#fff"></div>
<div class="sw" style="left:672px;top:957px;width:33px;height:2.5px;background:#C4262E"></div>
<div class="lg" style="left:708px;top:951px;font-size:13.5px">GS Wage Tracker</div>
<div class="sw" style="left:672px;top:970px;width:33px;height:2.5px;background:#0E3461"></div>
<div class="lg" style="left:708px;top:964px;font-size:13.5px">U/V Ratio Model</div>
<div class="sw" style="left:672px;top:986px;width:33px;height:0;border-top:2.5px dotted #C4262E"></div>
<div class="lg" style="left:708px;top:980px;font-size:13.5px">Forecast</div>
<div class="t n" style="left:485px;top:1254px">Note: Composition-adjusted tracker shown post-2000; shading indicates recessions.</div>
<div class="t n" style="left:485px;top:1270px">Source: US Department of Labor, Goldman Sachs GIR.</div>

<!-- forecast arrows -->
<svg style="position:absolute;left:0;top:0" width="945" height="1286">
  <line x1="358" y1="609" x2="395" y2="609" stroke="#000" stroke-width="1.6"/>
  <polygon points="401,609 393,605.5 393,612.5" fill="#000"/>
  <line x1="768" y1="582" x2="807" y2="582" stroke="#000" stroke-width="1.6"/>
  <polygon points="813,582 805,578.5 805,585.5" fill="#000"/>
</svg>
</body>
</html>
